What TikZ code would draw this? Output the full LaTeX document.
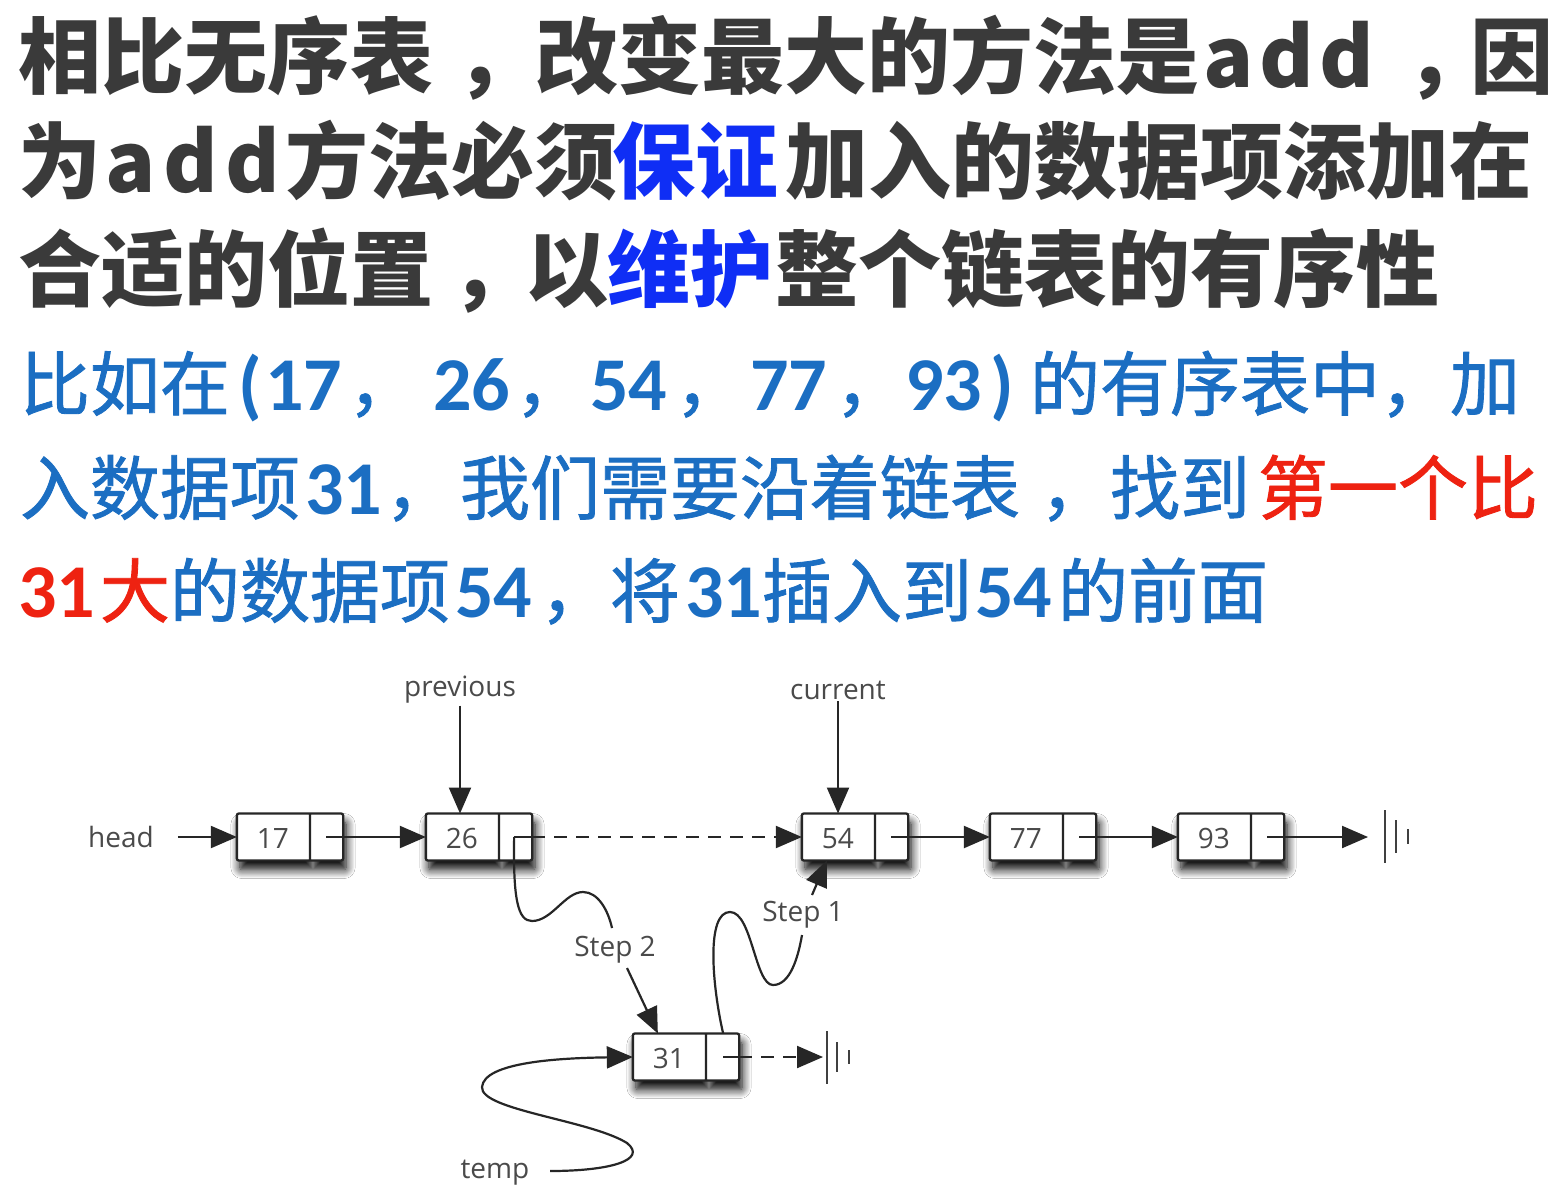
\documentclass[tikz,border=0pt]{standalone}
\usepackage{fontspec}
\usetikzlibrary{arrows.meta,shapes.multipart,calc,shadows.blur}
\newfontfamily\cjk{Noto Sans CJK SC}
\newfontfamily\cjkm[FakeBold=1.2]{Noto Sans CJK SC}
\newfontfamily\digf{Carlito}
\newfontfamily\dgm{Open Sans}
\definecolor{hd}{HTML}{3A3A3A}
\definecolor{hb}{HTML}{0F2EF5}
\definecolor{bt}{HTML}{1B6EC2}
\definecolor{rd}{HTML}{EE2211}
\definecolor{lab}{HTML}{4A4A4A}
\begin{document}
\begin{tikzpicture}[x=1pt,y=-1pt,
  every node/.style={inner sep=0pt, outer sep=0pt},
  headtxt/.style={anchor=base west, font=\cjk\bfseries\fontsize{83}{90}\selectfont, text=hd},
  headblue/.style={headtxt, text=hb},
  bluetxt/.style={anchor=base west, font=\cjkm\fontsize{70}{80}\selectfont, text=bt},
  bluedig/.style={anchor=base west, font=\digf\bfseries\fontsize{76}{80}\selectfont, text=bt},
  redtxt/.style={bluetxt, text=rd},
  reddig/.style={bluedig, text=rd},
  box/.style={rectangle split, rectangle split horizontal, rectangle split parts=2,
    draw=black!85, line width=2.3pt, fill=white, inner xsep=6pt, inner ysep=0pt,
    rounded corners=2pt,
    font=\dgm\fontsize{28}{30}\selectfont, text=lab,
    blur shadow={shadow xshift=3pt, shadow yshift=-9pt, shadow blur radius=9pt, shadow opacity=100, shadow blur steps=12}},
  ln/.style={line width=2.2pt, draw=black!85},
  arr/.style={ln, -{Triangle[length=26pt,width=22pt]}},
  darr/.style={arr, dash pattern=on 13pt off 9pt},
  lbl/.style={font=\dgm\fontsize{28}{30}\selectfont, text=lab, inner sep=2pt},
  gnd/.style={line width=2pt, draw=black!75}
]
\useasboundingbox[fill=white] (0,0) rectangle (1562,1194);

% heading
\node[headtxt] (h1a) at (18,87) {相比无序表};
\node[headtxt] (h1a2) at (455,87) {，};
\node[headtxt] (h1b) at (535,87) {改变最大的方法是};
\node[headtxt] (h1c) at (1203,87) {a\kern6pt d\kern6pt d};
\node[headtxt] (h1d) at (1405,87) {，};
\node[headtxt] (h1e) at (1470,87) {因};

\node[headtxt] (h2a) at (18,192) {为};
\node[headtxt] (h2b) at (105,192) {a\kern8pt d\kern8pt d};
\node[headtxt] (h2c) at (285,192) {方法必须};
\node[headblue] (h2d) at (612,192) {保证};
\node[headtxt] (h2e) at (785,192) {加入的数据项添加在};

\node[headtxt] (h3a) at (18,300) {合适的位置};
\node[headtxt] (h3a2) at (450,300) {，};
\node[headtxt] (h3b) at (525,300) {以};
\node[headblue] (h3c) at (607,300) {维护};
\node[headtxt] (h3d) at (775,300) {整个链表的有序性};

% blue lines
\node[bluetxt] (b1a) at (20,410) {比如在};
\node[bluedig] (b1b) at (238,410) {(};
\node[bluedig] (b1c) at (265,410) {17};
\node[bluetxt] (b1d) at (348,410) {，};
\node[bluedig] (b1e) at (433,410) {26};
\node[bluetxt] (b1f) at (515,410) {，};
\node[bluedig] (b1g) at (590,410) {54};
\node[bluetxt] (b1h) at (675,410) {，};
\node[bluedig] (b1i) at (750,410) {77};
\node[bluetxt] (b1j) at (835,410) {，};
\node[bluedig] (b1k) at (905,410) {93};
\node[bluedig] (b1l) at (990,410) {)};
\node[bluetxt] (b1m) at (1030,410) {的有序表中，加};

\node[bluetxt] (b2a) at (20,514) {入数据项};
\node[bluedig] (b2b) at (305,514) {31};
\node[bluetxt] (b2c) at (385,514) {，};
\node[bluetxt] (b2d) at (460,514) {我们需要沿着链表};
\node[bluetxt] (b2e) at (1040,514) {，};
\node[bluetxt] (b2f) at (1110,514) {找到};
\node[redtxt] (b2g) at (1258,514) {第一个比};

\node[reddig] (b3a) at (18,617) {31};
\node[redtxt] (b3b) at (100,617) {大};
\node[bluetxt] (b3c) at (170,617) {的数据项};
\node[bluedig] (b3d) at (455,617) {54};
\node[bluetxt] (b3e) at (540,617) {，};
\node[bluetxt] (b3f) at (610,617) {将};
\node[bluedig] (b3g) at (685,617) {31};
\node[bluetxt] (b3h) at (762,617) {插入到};
\node[bluedig] (b3i) at (975,617) {54};
\node[bluetxt] (b3j) at (1058,617) {的前面};

% linked list
\node[box] (n17) at (290,837) {\rule[-12pt]{0pt}{47pt}\makebox[60pt]{17}\nodepart{two}\makebox[20pt]{}};
\node[box] (n26) at (479,837) {\rule[-12pt]{0pt}{47pt}\makebox[60pt]{26}\nodepart{two}\makebox[20pt]{}};
\node[box] (n54) at (855,837) {\rule[-12pt]{0pt}{47pt}\makebox[60pt]{54}\nodepart{two}\makebox[20pt]{}};
\node[box] (n77) at (1043,837) {\rule[-12pt]{0pt}{47pt}\makebox[60pt]{77}\nodepart{two}\makebox[20pt]{}};
\node[box] (n93) at (1231,837) {\rule[-12pt]{0pt}{47pt}\makebox[60pt]{93}\nodepart{two}\makebox[20pt]{}};
\node[box] (n31) at (686,1057) {\rule[-12pt]{0pt}{47pt}\makebox[60pt]{31}\nodepart{two}\makebox[20pt]{}};

\node[lbl] (head) at (121,837) {head};
\node[lbl] (prev) at (460,690) {previous};
\node[lbl] (cur) at (838,690) {current};
\node[lbl] (st2) at (615,950) {Step 2};
\node[lbl] (st1) at (803,915) {Step 1};
\node[lbl] (tmp) at (495,1173) {temp};

\coordinate (p17) at ($(n17.east)+(-17,0)$);
\coordinate (p26) at ($(n26.east)+(-18,0)$);
\coordinate (p54) at ($(n54.east)+(-17,0)$);
\coordinate (p77) at ($(n77.east)+(-17,0)$);
\coordinate (p93) at ($(n93.east)+(-17,0)$);
\coordinate (p31) at ($(n31.east)+(-16,0)$);
\coordinate (p31u) at ($(n31.north east)+(-16,0)$);
\coordinate (g93) at (1368,837);
\coordinate (g31) at (823,1057);
\coordinate (s2e) at (612,928);
\coordinate (s2s) at (627,968);
\coordinate (s1e) at (802,935);
\coordinate (s1s) at (812,895);
\coordinate (tmps) at (550,1171);

\draw[arr, shorten <=22pt] (head.east) -- (n17.west);
\draw[arr] (p17) -- (n26);
\draw[ln] (p26) -- (n26.east);
\draw[darr] (n26.east) -- (n54);
\draw[arr] (p54) -- (n77);
\draw[arr] (p77) -- (n93);
\draw[arr] (p93) -- (g93);
\draw[gnd] ($(g93)+(17,-27)$) -- ++(0,53);
\draw[gnd] ($(g93)+(28,-17)$) -- ++(0,33);
\draw[gnd] ($(g93)+(40,-8)$) -- ++(0,15);

\draw[arr] (prev.south) -- (prev.south |- n26.north);
\draw[arr] (cur.south) -- (cur.south |- n54.north);

\draw[ln] (p26) .. controls (513,900) and (518,921) .. (532,921)
  .. controls (552,921) and (565,892) .. (583,892)
  .. controls (598,892) and (608,910) .. (s2e);
\draw[arr] (s2s) -- ($(n31.north west)+(25,0)$);

\draw[ln] (p31u) .. controls (712,985) and (706,912) .. (730,912)
  .. controls (752,912) and (755,985) .. (773,985)
  .. controls (790,985) and (798,958) .. (s1e);
\draw[arr] (s1s) -- ($(n54.south west)+(25,0)$);

\draw[ln] (p31) -- (n31.east);
\draw[darr] (n31.east) -- (g31);
\draw[gnd] ($(g31)+(4,-26)$) -- ++(0,53);
\draw[gnd] ($(g31)+(14,-15)$) -- ++(0,30);
\draw[gnd] ($(g31)+(26,-7)$) -- ++(0,14);

\draw[arr] (tmps) .. controls (610,1171) and (648,1160) .. (627,1143)
  .. controls (590,1120) and (480,1110) .. (482,1087)
  .. controls (484,1062) and (560,1058) .. (n31.west);
\end{tikzpicture}
\end{document}
